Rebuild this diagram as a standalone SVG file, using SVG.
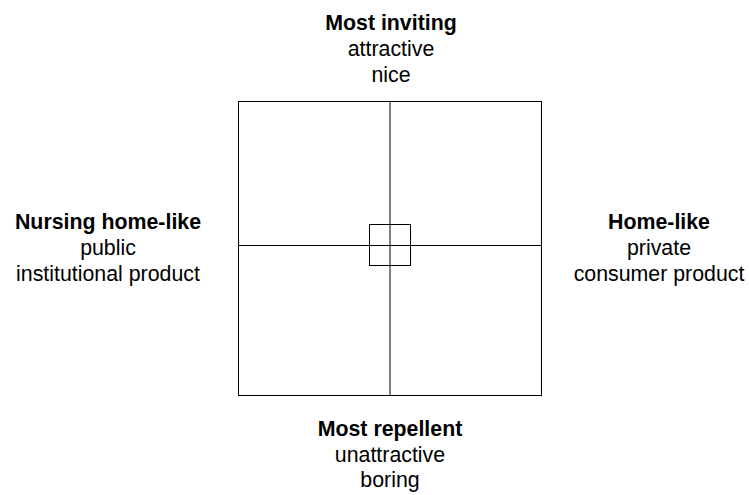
<svg xmlns="http://www.w3.org/2000/svg" width="749" height="495" viewBox="0 0 749 495">
<style>
text{font-family:"Liberation Sans",Arial,sans-serif;font-size:21.33px;fill:#000;text-anchor:middle}
.b{font-weight:bold}
.ln{fill:none;stroke:#000;stroke-width:1}
</style>
<rect width="749" height="495" fill="#fff"/>
<g id="grid">
<rect class="ln" x="238.5" y="101.5" width="303" height="294"/>
<line class="ln" x1="390" y1="101.5" x2="390" y2="395.5"/>
<line class="ln" x1="238.5" y1="245.5" x2="541.5" y2="245.5"/>
<rect class="ln" x="369.5" y="224.5" width="41" height="41"/>
</g>
<g id="top">
<text class="b" x="391" y="30">Most inviting</text>
<text x="391" y="56">attractive</text>
<text x="391" y="82">nice</text>
</g>
<g id="left">
<text class="b" x="108" y="229">Nursing home-like</text>
<text x="108" y="255">public</text>
<text x="108" y="281">institutional product</text>
</g>
<g id="right">
<text class="b" x="659" y="229">Home-like</text>
<text x="659" y="255">private</text>
<text x="659" y="281">consumer product</text>
</g>
<g id="bottom">
<text class="b" x="390" y="436">Most repellent</text>
<text x="390" y="462">unattractive</text>
<text x="390" y="487">boring</text>
</g>
</svg>
